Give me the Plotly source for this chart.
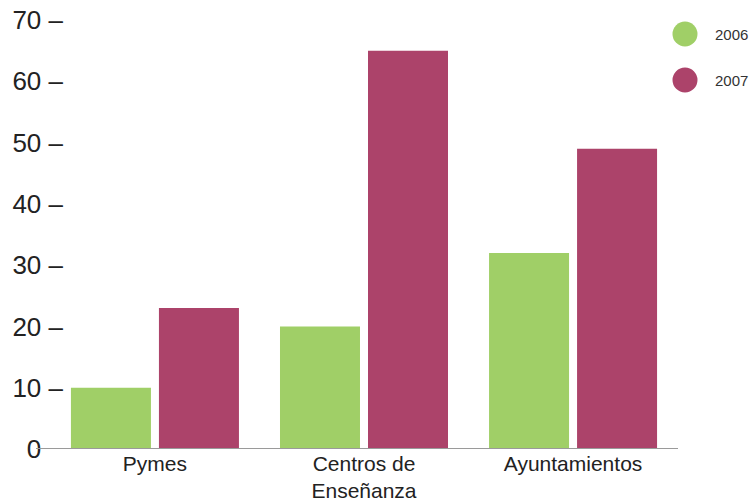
import plotly.graph_objects as go

categories = ["Pymes", "Centros de<br>Enseñanza", "Ayuntamientos"]
years = ["2006", "2007"]
values_2006 = [10, 20, 32]
values_2007 = [23, 65, 49]
colors = ["#a0cf67", "#ac436a"]
y_ticks = [0, 10, 20, 30, 40, 50, 60, 70]
y_ticktext = [f"{v} <span style='color:rgba(0,0,0,0)'>–</span>" if v == 0 else f"{v} –"
              for v in y_ticks]

fig = go.Figure()
for name, vals, col in zip(years, [values_2006, values_2007], colors):
    fig.add_trace(go.Bar(x=categories, y=vals, name=name, marker_color=col,
                         marker_line_width=0, showlegend=False))

W, H = 749, 503
ml, mr, mt, mb = 64, 71, 20, 54
pw = W - ml - mr
ph = H - mt - mb

fig.update_layout(
    width=W, height=H,
    margin=dict(l=ml, r=mr, t=mt, b=mb, autoexpand=False),
    paper_bgcolor="white", plot_bgcolor="white",
    barmode="group", bargap=0.158, bargroupgap=0.091,
    font=dict(family="Liberation Sans, Arial, sans-serif", color="#222"),
    xaxis=dict(range=[-0.435, 2.502], showgrid=False, showline=False, zeroline=False,
               ticks="", automargin=False,
               tickfont=dict(size=21, color="#222")),
    yaxis=dict(range=[0, 70], tickvals=y_ticks, ticktext=y_ticktext, showgrid=False,
               showline=False, zeroline=False, ticks="", automargin=False,
               tickfont=dict(size=26, color="#222")),
)

# baseline
fig.add_shape(type="line", xref="paper", yref="y", x0=(36 - ml) / pw, x1=1, y0=0, y1=0,
              line=dict(color="#9a9a9a", width=2), layer="above")

# legend (circles + text)
leg_y = [34, 80]
for yr, col, yc in zip(years, colors, leg_y):
    cx = 685
    r = 12.5
    fig.add_shape(type="circle", xref="paper", yref="paper",
                  x0=(cx - r - ml) / pw, x1=(cx + r - ml) / pw,
                  y0=1 - (yc + r - mt) / ph, y1=1 - (yc - r - mt) / ph,
                  fillcolor=col, line=dict(width=0))
    fig.add_annotation(xref="paper", yref="paper", x=(713 - ml) / pw,
                       y=1 - (yc - mt) / ph, text=yr, showarrow=False,
                       xanchor="left", yanchor="middle",
                       font=dict(size=15, color="#333"))

fig.write_html("out.html")
